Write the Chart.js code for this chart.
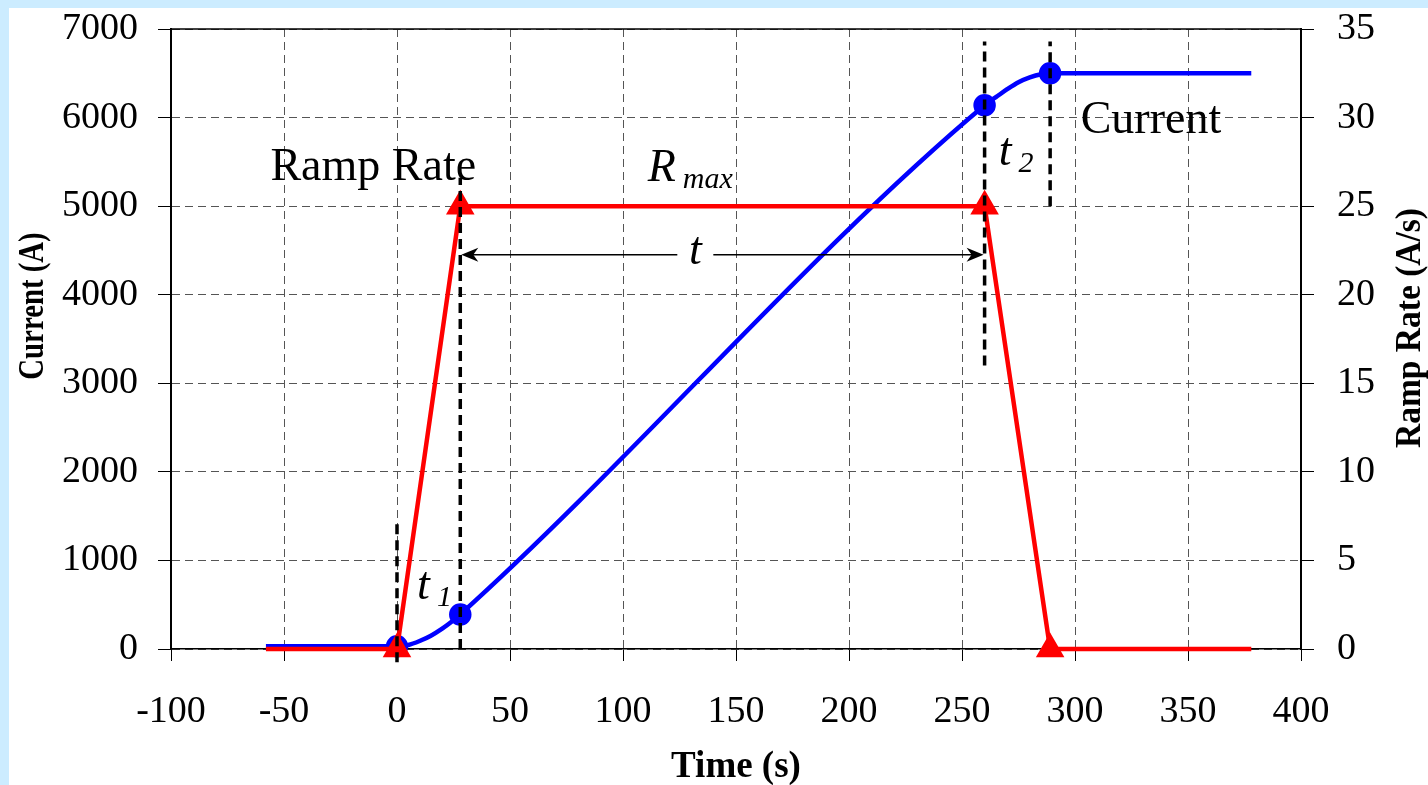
<!DOCTYPE html>
<html><head><meta charset="utf-8">
<script src="https://cdn.jsdelivr.net/npm/chart.js@4/dist/chart.umd.min.js"></script>
<style>
html,body{margin:0;padding:0;background:#CCECFF;width:1428px;height:785px;overflow:hidden}
#wrap{position:absolute;left:9px;top:8px;width:1419px;height:777px;background:#fff}
canvas{display:block}
</style></head><body>
<div id="wrap"><canvas id="c" width="1419" height="777"></canvas></div>
<script>
// ---- data ----
const currentTime = [-58, 0, 5, 10, 15, 20, 24, 28, 260, 265, 270, 275, 280, 285, 289, 378];
const currentAmps = [30, 30, 45, 90, 150, 230, 305, 390, 6140, 6230, 6320, 6400, 6455, 6490, 6500, 6500];
const currentMarkerTimes = [0, 28, 260, 289];

const rateTime = [-58, 0, 28, 260, 289, 378];
const rateValues = [0, 0, 25, 25, 0, 0];
const rateMarkerTimes = [0, 28, 260, 289];

const guideTimes = [0, 28, 260, 289];
const guideBottomAmps = [-150, 0, 3200, 5000];
const guideTopAmps = [1460, 5320, 6860, 6860];

const arrowTimes = [28, 260];
const arrowAmps = 4450;
const arrowLabelTime = 132;
const arrowLabelAmps = 4347;

const plainLabelText = ['Ramp Rate', 'Current'];
const plainLabelTime = [-56, 302.5];
const plainLabelAmps = [5296, 5827];

const symbolText = ['R', 't', 't'];
const symbolSub = ['max', '1', '2'];
const symbolTime = [110.9, 8.9, 266.3];
const symbolAmps = [5285, 565, 5465];

const xTickMin = -100, xTickMax = 400, xTickStep = 50;
const yTickMin = 0, yTickMax = 7000, yTickStep = 1000;
const y1TickMin = 0, y1TickMax = 35, y1TickStep = 5;

const xTitle = 'Time (s)';
const yTitle = 'Current (A)';
const y1Title = 'Ramp Rate (A/s)';

// ---- chart ----
const SERIF = "'Liberation Serif', 'Times New Roman', serif";
const pts = (xs, ys) => xs.map((v, i) => ({x: v, y: ys[i]}));

const guideSets = guideTimes.map((t, i) => ({
  data: [{x: t, y: guideBottomAmps[i]}, {x: t, y: guideTopAmps[i]}],
  yAxisID: 'y', borderColor: '#000', borderWidth: 3.5, borderDash: [10, 6],
  pointRadius: 0, order: -1, clip: false, tension: 0
}));

const overlay = {
  id: 'overlay',
  beforeDatasetsDraw(chart) {
    const {ctx, chartArea: a} = chart;
    ctx.save();
    ctx.strokeStyle = '#000'; ctx.lineWidth = 1.5;
    ctx.beginPath(); ctx.moveTo(a.left, a.top); ctx.lineTo(a.right, a.top); ctx.stroke();
    ctx.restore();
  },
  afterDatasetsDraw(chart) {
    const {ctx, scales: {x, y}, chartArea: a} = chart;
    ctx.save();
    ctx.fillStyle = '#000';
    ctx.textBaseline = 'alphabetic';
    ctx.textAlign = 'left';
    ctx.font = '46px ' + SERIF;
    plainLabelText.forEach((s, i) => {
      ctx.fillText(s, x.getPixelForValue(plainLabelTime[i]), y.getPixelForValue(plainLabelAmps[i]));
    });
    symbolText.forEach((s, i) => {
      const px = x.getPixelForValue(symbolTime[i]);
      const py = y.getPixelForValue(symbolAmps[i]);
      ctx.font = 'italic 46px ' + SERIF;
      ctx.fillText(s, px, py);
      const w = ctx.measureText(s).width;
      ctx.font = 'italic 30px ' + SERIF;
      ctx.fillText(symbolSub[i], px + w + 7, py + 7);
    });
    // double arrow with label t
    const ay = y.getPixelForValue(arrowAmps);
    const x1 = x.getPixelForValue(arrowTimes[0]);
    const x2 = x.getPixelForValue(arrowTimes[1]);
    const lc = x.getPixelForValue(arrowLabelTime);
    ctx.font = 'italic 46px ' + SERIF;
    ctx.textAlign = 'center';
    ctx.fillText('t', lc, y.getPixelForValue(arrowLabelAmps));
    ctx.strokeStyle = '#000'; ctx.lineWidth = 1.5;
    ctx.beginPath();
    ctx.moveTo(x1 + 6, ay); ctx.lineTo(lc - 18, ay);
    ctx.moveTo(lc + 18, ay); ctx.lineTo(x2 - 6, ay);
    ctx.stroke();
    const head = (tx, dir) => {
      ctx.beginPath();
      ctx.moveTo(tx, ay);
      ctx.lineTo(tx + dir * 17, ay - 7);
      ctx.lineTo(tx + dir * 12, ay);
      ctx.lineTo(tx + dir * 17, ay + 7);
      ctx.closePath(); ctx.fill();
    };
    head(x1 + 1, 1); head(x2 - 1, -1);
    // axis titles
    ctx.font = 'bold 37px ' + SERIF;
    ctx.textAlign = 'center'; ctx.textBaseline = 'middle';
    ctx.fillText(xTitle, (a.left + a.right) / 2, 759);
    ctx.save();
    ctx.translate(25, 298); ctx.rotate(-Math.PI / 2); ctx.scale(0.8, 1);
    ctx.font = 'bold 36px ' + SERIF;
    ctx.fillText(yTitle, 0, 0);
    ctx.restore();
    ctx.save();
    ctx.translate(1402, 320); ctx.rotate(-Math.PI / 2); ctx.scale(0.93, 1);
    ctx.font = 'bold 36px ' + SERIF;
    ctx.fillText(y1Title, 0, 0);
    ctx.restore();
    ctx.restore();
  }
};

const tickFont = {family: SERIF, size: 38};
const plainNum = v => String(v);

new Chart(document.getElementById('c'), {
  type: 'line',
  data: {
    datasets: [
      {
        label: 'Ramp Rate', data: pts(rateTime, rateValues), yAxisID: 'y1',
        borderColor: '#FF0000', backgroundColor: '#FF0000', borderWidth: 4.5, tension: 0,
        pointStyle: 'triangle', pointBackgroundColor: '#FF0000', pointBorderColor: '#FF0000',
        pointRadius: c => rateMarkerTimes.includes(rateTime[c.dataIndex]) ? 12 : 0,
        order: 0, clip: false
      },
      {
        label: 'Current', data: pts(currentTime, currentAmps), yAxisID: 'y',
        borderColor: '#0000FF', backgroundColor: '#0000FF', borderWidth: 4.5,
        cubicInterpolationMode: 'monotone',
        pointStyle: 'circle', pointBackgroundColor: '#0000FF', pointBorderColor: '#0000FF',
        pointRadius: c => currentMarkerTimes.includes(currentTime[c.dataIndex]) ? 9 : 0,
        order: 1, clip: false
      },
      ...guideSets
    ]
  },
  options: {
    responsive: false, animation: false, devicePixelRatio: 1,
    layout: {padding: {top: 21, left: 0, right: 0, bottom: 0}},
    plugins: {legend: {display: false}, tooltip: {enabled: false}},
    scales: {
      x: {
        type: 'linear', min: xTickMin, max: xTickMax,
        ticks: {stepSize: xTickStep, font: tickFont, color: '#000', padding: 28, maxRotation: 0, autoSkip: false, callback: plainNum},
        grid: {color: '#555', lineWidth: 1, tickLength: 12, tickColor: '#000', tickBorderDash: []},
        border: {display: true, color: '#000', width: 1.5, dash: [8, 5]},
        afterFit: s => { s.height = 136; s.paddingLeft = 0; s.paddingRight = 0; }
      },
      y: {
        position: 'left', min: yTickMin, max: yTickMax,
        ticks: {stepSize: yTickStep, font: tickFont, color: '#000', padding: 20, callback: plainNum},
        grid: {color: '#555', lineWidth: 1, tickLength: 13, tickColor: '#000', tickBorderDash: []},
        border: {display: true, color: '#000', width: 2, dash: [8, 5]},
        afterFit: s => { s.width = 162; s.paddingTop = 0; s.paddingBottom = 0; }
      },
      y1: {
        position: 'right', min: y1TickMin, max: y1TickMax,
        ticks: {stepSize: y1TickStep, font: tickFont, color: '#000', padding: 23, callback: plainNum},
        grid: {drawOnChartArea: false, tickLength: 13, tickColor: '#000', tickBorderDash: []},
        border: {display: true, color: '#000', width: 2},
        afterFit: s => { s.width = 127; s.paddingTop = 0; s.paddingBottom = 0; }
      }
    }
  },
  plugins: [overlay]
});
</script>
</body></html>
